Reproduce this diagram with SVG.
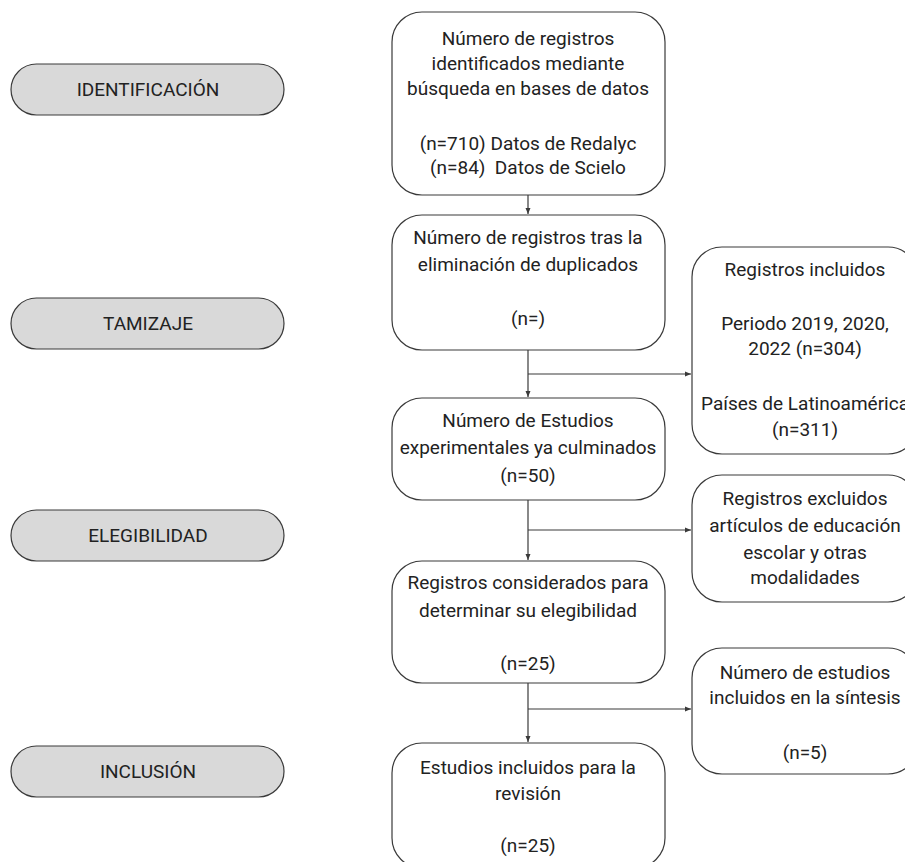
<svg xmlns="http://www.w3.org/2000/svg" width="905" height="862" viewBox="0 0 905 862">
<defs>
<style>
.pill{fill:#d9d9d9;stroke:#3a3a3a;stroke-width:1.2}
.box{fill:#ffffff;stroke:#3a3a3a;stroke-width:1.2}
text{font-family:Roboto,"Liberation Sans",sans-serif;font-size:19px;fill:#222222;text-anchor:middle}
.ln{fill:none;stroke:#3a3a3a;stroke-width:1.2}
</style>
<marker id="ah" markerWidth="8" markerHeight="8" refX="6" refY="3" orient="auto" markerUnits="userSpaceOnUse">
<path d="M0,0.5 L6,3 L0,5.5 Z" fill="#3a3a3a"/>
</marker>
</defs>
<rect width="905" height="862" fill="#ffffff"/>

<g id="stage-identificacion">
<rect class="pill" x="11" y="64" width="273" height="51" rx="25.5"/>
<text x="148" y="96">IDENTIFICACIÓN</text>
</g>
<g id="stage-tamizaje">
<rect class="pill" x="11" y="298" width="273" height="51" rx="25.5"/>
<text x="148" y="330">TAMIZAJE</text>
</g>
<g id="stage-elegibilidad">
<rect class="pill" x="11" y="510" width="273" height="51" rx="25.5"/>
<text x="148" y="542">ELEGIBILIDAD</text>
</g>
<g id="stage-inclusion">
<rect class="pill" x="11" y="746" width="273" height="51" rx="25.5"/>
<text x="148" y="778">INCLUSIÓN</text>
</g>

<g id="connectors">
<line class="ln" x1="528" y1="195" x2="528" y2="214" marker-end="url(#ah)"/>
<line class="ln" x1="528" y1="350" x2="528" y2="397" marker-end="url(#ah)"/>
<line class="ln" x1="528" y1="374" x2="691" y2="374" marker-end="url(#ah)"/>
<line class="ln" x1="528" y1="500" x2="528" y2="560" marker-end="url(#ah)"/>
<line class="ln" x1="528" y1="530" x2="691" y2="530" marker-end="url(#ah)"/>
<line class="ln" x1="528" y1="683" x2="528" y2="742" marker-end="url(#ah)"/>
<line class="ln" x1="528" y1="709" x2="691" y2="709" marker-end="url(#ah)"/>
</g>

<g id="box-identificados">
<rect class="box" x="392" y="12" width="273" height="183" rx="30"/>
<text x="528" y="45">Número de registros</text>
<text x="528" y="70">identificados mediante</text>
<text x="528" y="95">búsqueda en bases de datos</text>
<text x="528" y="150">(n=710) Datos de Redalyc</text>
<text x="528" y="174" xml:space="preserve">(n=84)  Datos de Scielo</text>
</g>

<g id="box-duplicados">
<rect class="box" x="392" y="215" width="273" height="135" rx="30"/>
<text x="528" y="244">Número de registros tras la</text>
<text x="528" y="271">eliminación de duplicados</text>
<text x="528" y="325">(n=)</text>
</g>

<g id="box-estudios">
<rect class="box" x="392" y="398" width="273" height="102" rx="30"/>
<text x="528" y="427">Número de Estudios</text>
<text x="528" y="454">experimentales ya culminados</text>
<text x="528" y="482">(n=50)</text>
</g>

<g id="box-elegibilidad">
<rect class="box" x="392" y="561" width="273" height="122" rx="30"/>
<text x="528" y="589">Registros considerados para</text>
<text x="528" y="617">determinar su elegibilidad</text>
<text x="528" y="670">(n=25)</text>
</g>

<g id="box-revision">
<rect class="box" x="392" y="743" width="273" height="125" rx="30"/>
<text x="528" y="774">Estudios incluidos para la</text>
<text x="528" y="800">revisión</text>
<text x="528" y="852">(n=25)</text>
</g>

<g id="box-incluidos">
<rect class="box" x="692" y="247" width="226" height="207" rx="30"/>
<text x="805" y="276">Registros incluidos</text>
<text x="805" y="330">Periodo 2019, 2020,</text>
<text x="805" y="355">2022 (n=304)</text>
<text x="805" y="410">Países de Latinoamérica</text>
<text x="805" y="436">(n=311)</text>
</g>

<g id="box-excluidos">
<rect class="box" x="692" y="475" width="226" height="127" rx="30"/>
<text x="805" y="505">Registros excluidos</text>
<text x="805" y="532">artículos de educación</text>
<text x="805" y="559">escolar y otras</text>
<text x="805" y="584">modalidades</text>
</g>

<g id="box-sintesis">
<rect class="box" x="692" y="648" width="226" height="126" rx="30"/>
<text x="805" y="679">Número de estudios</text>
<text x="805" y="704">incluidos en la síntesis</text>
<text x="805" y="759">(n=5)</text>
</g>
</svg>
